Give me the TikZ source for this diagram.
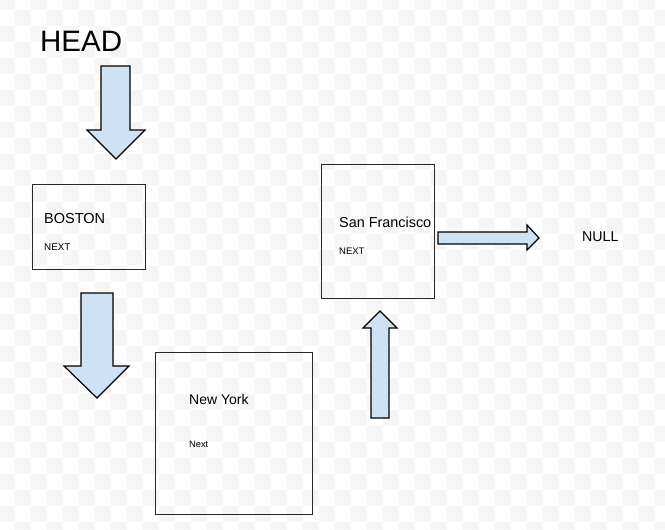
\documentclass[tikz,border=0pt]{standalone}
\usepackage{fontspec}
\setmainfont{Liberation Sans}
\definecolor{checker}{RGB}{246,246,246}
\definecolor{arrowfill}{RGB}{207,226,243}
\definecolor{boxline}{RGB}{40,40,40}
\begin{document}
\begin{tikzpicture}[x=1pt,y=-1pt,
  listbox/.style={draw=boxline,line width=1.4pt,anchor=north west,inner sep=0pt},
  blockarrow/.style={draw=black,fill=arrowfill,line width=1.2pt,line join=miter},
  lbl/.style={anchor=base west,inner sep=0pt,text=black}]
\useasboundingbox (0,0) rectangle (665,530);
% checkerboard background
\begin{scope}
\clip (0,0) rectangle (665,530);
\foreach \j in {0,...,34}{
  \pgfmathtruncatemacro{\ckoff}{mod(\j,2)}
  \foreach \k in {0,...,21}{
    \pgfmathsetmacro{\ckx}{-1+16*(2*\k+\ckoff)}
    \fill[checker] (\ckx,-6.3+16*\j) rectangle ++(16,16);
  }
}
\end{scope}
% boxes
\node[listbox,minimum width=113pt,minimum height=85pt] (boston) at (32,184) {};
\node[listbox,minimum width=157pt,minimum height=162pt] (newyork) at (155,352) {};
\node[listbox,minimum width=113pt,minimum height=134pt] (sanfran) at (321,164) {};
% texts
\node[lbl,font=\fontsize{29.5}{30}\selectfont] (head) at (40,51) {HEAD};
\node[lbl,font=\fontsize{14.5}{16}\selectfont] (bostonlbl) at (44,223) {BOSTON};
\node[lbl,font=\fontsize{9.8}{11}\selectfont] (bostonnext) at (44,250) {NEXT};
\node[lbl,font=\fontsize{14}{16}\selectfont] (nylbl) at (189,404) {New York};
\node[lbl,font=\fontsize{9.3}{11}\selectfont] (nynext) at (189,447) {Next};
\node[lbl,font=\fontsize{14.4}{16}\selectfont] (sflbl) at (339,227) {San Francisco};
\node[lbl,font=\fontsize{9.5}{11}\selectfont] (sfnext) at (339,254) {NEXT};
\node[lbl,font=\fontsize{14.2}{16}\selectfont] (null) at (582,241) {NULL};
% block arrows
\draw[blockarrow] (101,66) -- (130,66) -- (130,130) -- (145,130) -- (116,159) -- (87,130) -- (101,130) -- cycle;
\draw[blockarrow] (81,293) -- (113,293) -- (113,366) -- (129,366) -- (97,398) -- (64,366) -- (81,366) -- cycle;
\draw[blockarrow] (371,418) -- (389,418) -- (389,328) -- (397,328) -- (380,311) -- (363,328) -- (371,328) -- cycle;
\draw[blockarrow] (438,232) -- (527,232) -- (527,225) -- (539,238) -- (527,250) -- (527,244) -- (438,244) -- cycle;
\end{tikzpicture}
\end{document}
